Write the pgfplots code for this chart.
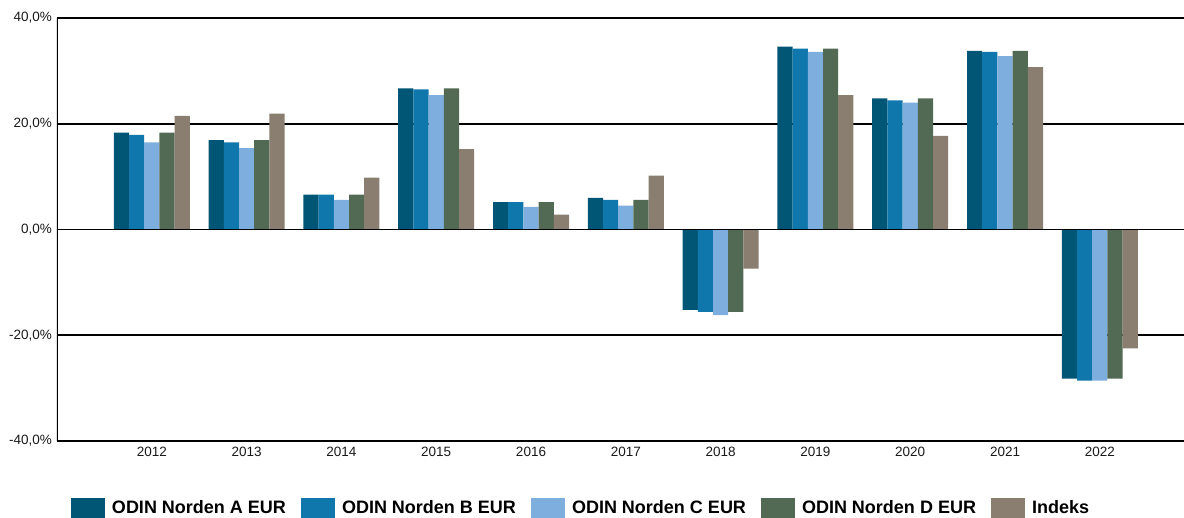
\documentclass[border=0pt]{standalone}
\usepackage{fontspec}
\setmainfont{Liberation Sans}
\usepackage{pgfplots}
\usepackage{pgfplotstable}
\pgfplotsset{compat=1.18}
\definecolor{cA}{RGB}{2,86,117}
\definecolor{cB}{RGB}{15,119,171}
\definecolor{cC}{RGB}{125,174,221}
\definecolor{cD}{RGB}{82,106,83}
\definecolor{cI}{RGB}{137,126,112}
\pgfplotstableread{
x A B C D I
0 18.3 17.9 16.5 18.3 21.5
1 16.9 16.5 15.4 16.9 21.9
2 6.6 6.6 5.6 6.6 9.8
3 26.7 26.5 25.4 26.7 15.2
4 5.2 5.2 4.3 5.2 2.8
5 6.0 5.6 4.5 5.6 10.2
6 -15.2 -15.6 -16.2 -15.6 -7.4
7 34.6 34.2 33.6 34.2 25.4
8 24.8 24.4 24.0 24.8 17.7
9 33.8 33.6 32.8 33.8 30.7
10 -28.2 -28.6 -28.6 -28.2 -22.5
}\data
\begin{document}
\begin{tikzpicture}
\useasboundingbox (-57pt,-76pt) rectangle (1127pt,441pt);
\begin{axis}[
  scale only axis, width=1127pt, height=423pt,
  ybar=0pt, bar width=15.2pt,
  xmin=-1, xmax=10.888, ymin=-40, ymax=40,
  xtick={0,...,10},
  xticklabels={2012,2013,2014,2015,2016,2017,2018,2019,2020,2021,2022},
  ytick={-40,-20,0,20,40},
  yticklabels={{-40,0\%},{-20,0\%},{0,0\%},{20,0\%},{40,0\%}},
  major tick length=0pt,
  axis line style={draw=none},
  ymajorgrids, grid style={black, line width=1.9pt},
  major grid style={black, line width=1.9pt},
  ticklabel style={font=\fontsize{13.5}{15}\selectfont, text=black!90},
  yticklabel style={anchor=east, inner sep=0pt, xshift=-5pt},
  xticklabel style={anchor=north, inner sep=0pt, yshift=-6pt},
  legend columns=5,
  legend style={draw=none, fill=none, at={(0.01242,-0.158)}, anchor=west,
    inner sep=0pt, outer sep=0pt,
    nodes={inner sep=0pt, font=\fontsize{18}{20}\selectfont\bfseries},
    /tikz/every odd column/.append style={column sep=7pt},
    /tikz/every even column/.append style={column sep=15pt}},
]
\addplot[fill=cA, draw=none, legend image code/.code={\fill[cA] (0pt,-10pt) rectangle (34pt,10pt);}] table[x=x,y=A] {\data};
\addlegendentry{ODIN Norden A EUR}
\addplot[fill=cB, draw=none, legend image code/.code={\fill[cB] (0pt,-10pt) rectangle (34pt,10pt);}] table[x=x,y=B] {\data};
\addlegendentry{ODIN Norden B EUR}
\addplot[fill=cC, draw=none, legend image code/.code={\fill[cC] (0pt,-10pt) rectangle (34pt,10pt);}] table[x=x,y=C] {\data};
\addlegendentry{ODIN Norden C EUR}
\addplot[fill=cD, draw=none, legend image code/.code={\fill[cD] (0pt,-10pt) rectangle (34pt,10pt);}] table[x=x,y=D] {\data};
\addlegendentry{ODIN Norden D EUR}
\addplot[fill=cI, draw=none, legend image code/.code={\fill[cI] (0pt,-10pt) rectangle (34pt,10pt);}] table[x=x,y=I] {\data};
\addlegendentry{Indeks}
\draw[black, line width=1.9pt] (rel axis cs:0,0.5) -- (rel axis cs:1,0.5);
\draw[black, line width=1.9pt] (rel axis cs:0,0) -- (rel axis cs:0,1);
\end{axis}
\end{tikzpicture}
\end{document}
